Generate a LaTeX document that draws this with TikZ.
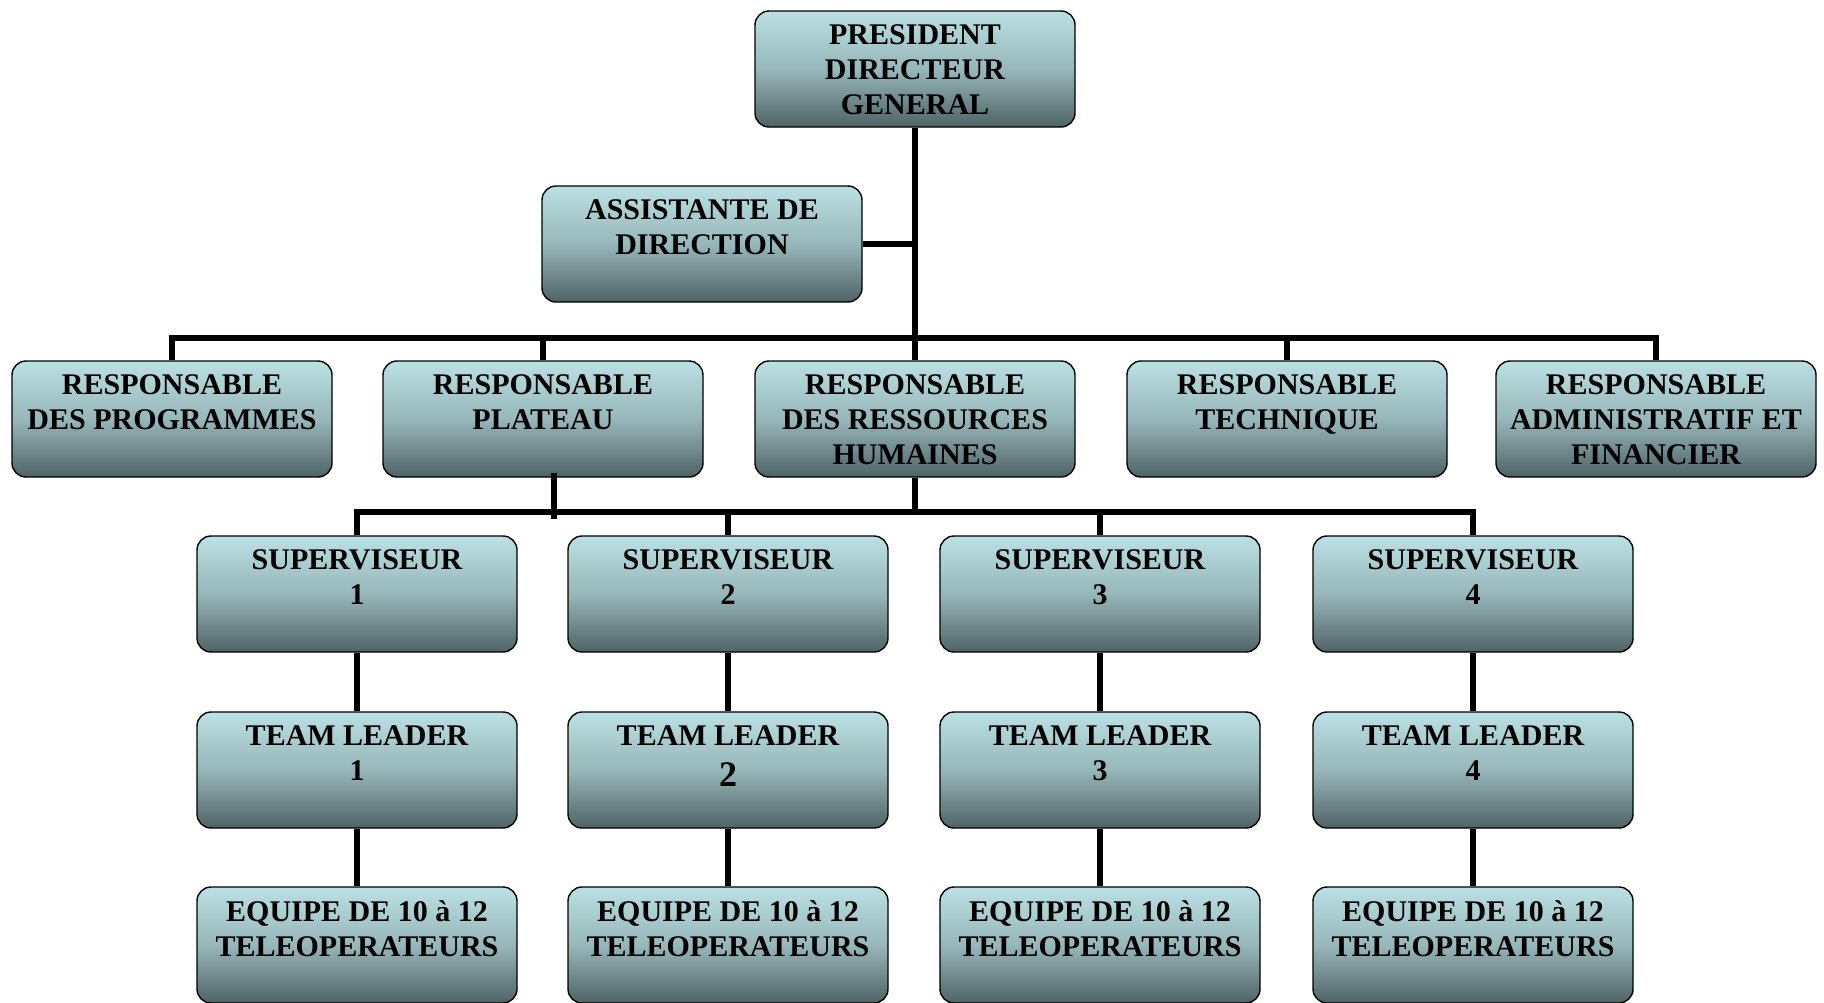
\documentclass[tikz,border=0pt]{standalone}
\usepackage{fontspec}
\setmainfont{Liberation Serif}
\usetikzlibrary{positioning,calc}

\definecolor{posteHaut}{HTML}{BBE0E3}
\definecolor{posteMilieu}{HTML}{97B7BA}
\definecolor{posteBas}{HTML}{4F6365}

\newcommand{\intitule}[1]{\parbox[c][44pt][t]{158pt}{\centering\bfseries\fontsize{15}{17.5}\selectfont #1}}

\begin{document}
\begin{tikzpicture}[x=0.5pt, y=-0.5pt,
    poste/.style={draw=black, line width=0.7pt, rounded corners=7pt,
        top color=posteHaut, bottom color=posteBas, middle color=posteMilieu,
        inner xsep=1pt, inner ysep=7pt, minimum width=160pt, minimum height=58pt},
    lien/.style={line width=2.6pt}]
    \useasboundingbox (0,0) rectangle (1824,1002);

    % direction
    \node[poste] (pdg) at (915,69) {\intitule{PRESIDENT\\DIRECTEUR\\GENERAL}};
    \node[poste] (assist) at (702,244) {\intitule{ASSISTANTE DE\\DIRECTION}};

    % responsables
    \node[poste] (prog) at (172,419) {\intitule{RESPONSABLE\\DES PROGRAMMES}};
    \node[poste] (plateau) at (543,419) {\intitule{RESPONSABLE\\PLATEAU}};
    \node[poste] (rh) at (915,419) {\intitule{RESPONSABLE\\DES RESSOURCES\\HUMAINES}};
    \node[poste] (tech) at (1287,419) {\intitule{RESPONSABLE\\TECHNIQUE}};
    \node[poste] (admin) at (1656,419) {\intitule{RESPONSABLE\\ADMINISTRATIF ET\\FINANCIER}};

    % superviseurs
    \node[poste] (sup1) at (357,594) {\intitule{SUPERVISEUR\\1}};
    \node[poste] (sup2) at (728,594) {\intitule{SUPERVISEUR\\2}};
    \node[poste] (sup3) at (1100,594) {\intitule{SUPERVISEUR\\3}};
    \node[poste] (sup4) at (1473,594) {\intitule{SUPERVISEUR\\4}};

    % team leaders
    \node[poste] (tl1) at (357,770) {\intitule{TEAM LEADER\\1}};
    \node[poste] (tl2) at (728,770) {\intitule{TEAM LEADER\\\raisebox{-3pt}{\fontsize{18}{18}\selectfont 2}}};
    \node[poste] (tl3) at (1100,770) {\intitule{TEAM LEADER\\3}};
    \node[poste] (tl4) at (1473,770) {\intitule{TEAM LEADER\\4}};

    % equipes
    \node[poste] (eq1) at (357,945) {\intitule{EQUIPE DE 10 à 12\\TELEOPERATEURS}};
    \node[poste] (eq2) at (728,945) {\intitule{EQUIPE DE 10 à 12\\TELEOPERATEURS}};
    \node[poste] (eq3) at (1100,945) {\intitule{EQUIPE DE 10 à 12\\TELEOPERATEURS}};
    \node[poste] (eq4) at (1473,945) {\intitule{EQUIPE DE 10 à 12\\TELEOPERATEURS}};

    % liaisons du haut
    \coordinate (bus1) at (915,338);
    \draw[lien] (pdg.south) -- (rh.north);
    \draw[lien] (assist.east) -- (assist.east -| pdg.south);
    \draw[lien] (prog.north) |- (bus1) -| (admin.north);
    \draw[lien] (plateau.north) -- (plateau.north |- bus1);
    \draw[lien] (tech.north) -- (tech.north |- bus1);

    % liaisons vers les superviseurs
    \coordinate (bus2) at (915,512);
    \draw[lien] (rh.south) -- (bus2);
    \draw[lien] (sup1.north) |- (bus2) -| (sup4.north);
    \draw[lien] (sup2.north) -- (sup2.north |- bus2);
    \draw[lien] (sup3.north) -- (sup3.north |- bus2);
    \draw[lien] ([xshift=5.5pt,yshift=2.5pt]plateau.south) -- ++(0,-23pt);

    % colonnes
    \foreach \i in {1,...,4} {
        \draw[lien] (sup\i) -- (tl\i);
        \draw[lien] (tl\i) -- (eq\i);
    }
\end{tikzpicture}
\end{document}
